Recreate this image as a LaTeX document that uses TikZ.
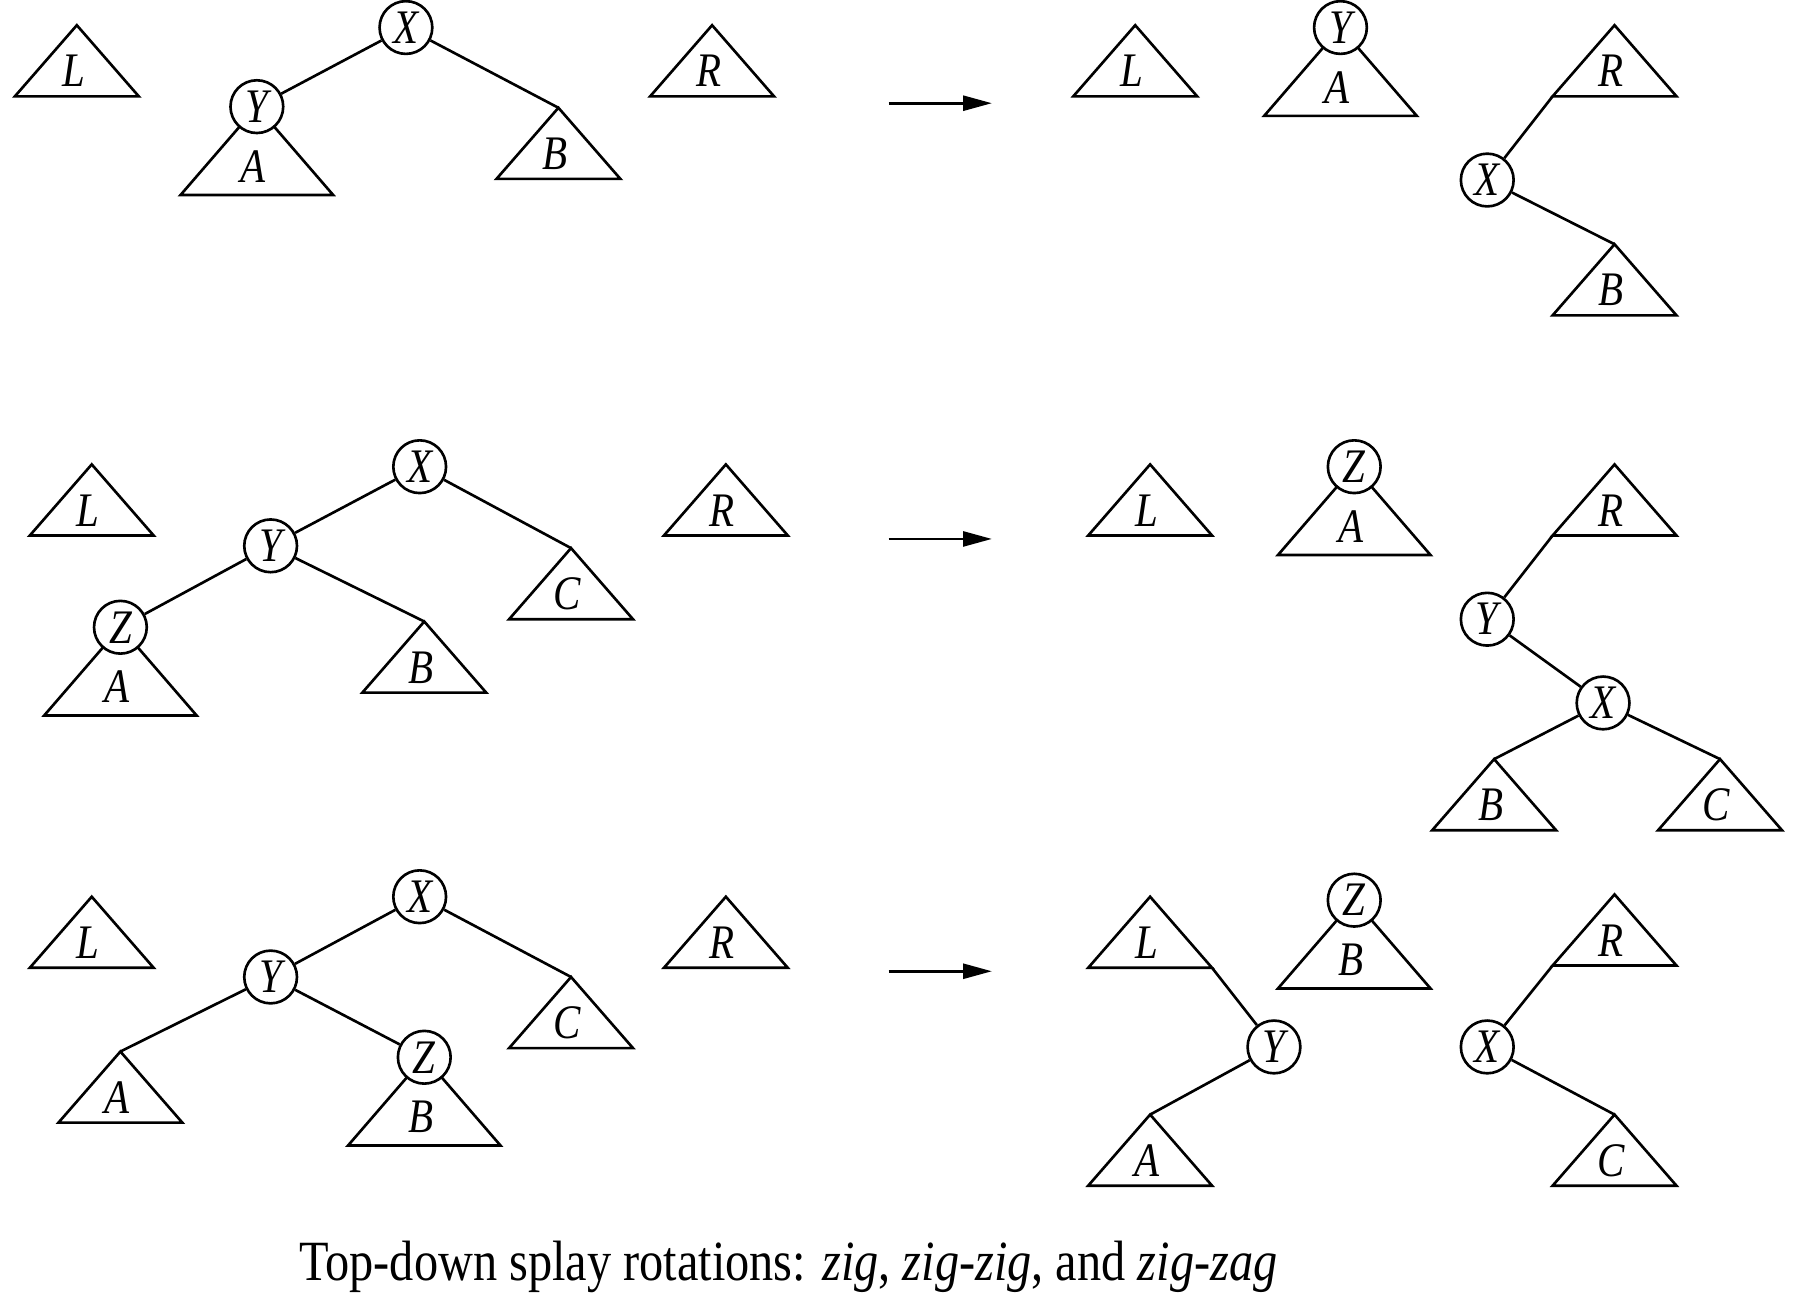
\documentclass[tikz,border=0pt]{standalone}
\usepackage{fontspec}
\setmainfont{Liberation Serif}[FakeStretch=0.85]
\usetikzlibrary{arrows.meta}
\tikzset{
  edge/.style={line width=1.15pt},
  tri/.style={line width=1.15pt, line join=miter},
  arr/.style={line width=1.15pt, -{Triangle[length=12.5pt,width=6.5pt]}},
  keynode/.style={circle, draw, line width=1.15pt, fill=white, minimum size=23pt, inner sep=0pt, font=\fontsize{21}{23}\selectfont\itshape},
  trilabel/.style={inner sep=0pt, font=\fontsize{21}{23}\selectfont\itshape},
  captext/.style={font=\fontsize{24.8}{28}\selectfont, inner sep=0pt, anchor=base}
}
% small subtree triangle: name, apex x, apex y, label
\newcommand\stri[4]{%
  \coordinate (#1-t) at (#2,#3);
  \draw[tri] (#1-t) -- ++(-54,62) coordinate (#1-l) -- ++(108,0) coordinate (#1-r) -- cycle;
  \node[trilabel] (#1-lab) at ([shift={(-3,40)}]#1-t) {#4};
}
% big subtree triangle hanging from a key node: key name, tri name, x, y, key letter, tri letter
\newcommand\btri[6]{%
  \coordinate (#2-t) at (#3,#4);
  \draw[tri] (#2-t) -- ++(-66.5,77) coordinate (#2-l) -- ++(133,0) coordinate (#2-r) -- cycle;
  \node[trilabel] (#2-lab) at ([shift={(-3,52)}]#2-t) {#6};
  \node[keynode] (#1) at (#3,#4) {#5};
}
\begin{document}
\begin{tikzpicture}[x=0.5pt,y=-0.5pt]
\useasboundingbox (0,0) rectangle (1568,1130.3);

% ---------- Row 1: zig ----------
\stri{aL}{67}{22}{L}
\node[keynode] (aX) at (354,24) {X};
\btri{aY}{aA}{224}{93}{Y}{A}
\stri{aB}{487}{94}{B}
\stri{aR}{621}{22}{R}
\draw[edge] (aY) -- (aX);
\draw[edge] (aX) -- (aB-t);

\coordinate (ar1s) at (775,90);
\coordinate (ar1e) at (865,90);
\draw[arr] (ar1s) -- (ar1e);

\stri{bL}{990}{22}{L}
\btri{bY}{bA}{1169}{24}{Y}{A}
\stri{bR}{1408}{22}{R}
\node[keynode] (bX) at (1297,157) {X};
\stri{bB}{1408}{213}{B}
\draw[edge] (bR-l) -- (bX);
\draw[edge] (bX) -- (bB-t);

% ---------- Row 2: zig-zig ----------
\stri{cL}{80}{405}{L}
\node[keynode] (cX) at (366,407) {X};
\node[keynode] (cY) at (236,476) {Y};
\btri{cZ}{cA}{105}{547}{Z}{A}
\stri{cB}{370}{542}{B}
\stri{cC}{498}{478}{C}
\stri{cR}{633}{405}{R}
\draw[edge] (cX) -- (cY);
\draw[edge] (cY) -- (cZ);
\draw[edge] (cY) -- (cB-t);
\draw[edge] (cX) -- (cC-t);

\coordinate (ar2s) at (775,470);
\coordinate (ar2e) at (865,470);
\draw[arr] (ar2s) -- (ar2e);

\stri{dL}{1003}{405}{L}
\btri{dZ}{dA}{1181}{407}{Z}{A}
\stri{dR}{1408}{405}{R}
\node[keynode] (dY) at (1297,540) {Y};
\node[keynode] (dX) at (1398,613) {X};
\stri{dB}{1303}{662}{B}
\stri{dC}{1500}{662}{C}
\draw[edge] (dR-l) -- (dY);
\draw[edge] (dY) -- (dX);
\draw[edge] (dX) -- (dB-t);
\draw[edge] (dX) -- (dC-t);

% ---------- Row 3: zig-zag ----------
\stri{eL}{80}{782}{L}
\node[keynode] (eX) at (366,782) {X};
\node[keynode] (eY) at (236,852) {Y};
\stri{eA}{105}{917}{A}
\btri{eZ}{eB}{370}{922}{Z}{B}
\stri{eC}{498}{852}{C}
\stri{eR}{633}{782}{R}
\draw[edge] (eX) -- (eY);
\draw[edge] (eY) -- (eA-t);
\draw[edge] (eY) -- (eZ);
\draw[edge] (eX) -- (eC-t);

\coordinate (ar3s) at (775,847);
\coordinate (ar3e) at (865,847);
\draw[arr] (ar3s) -- (ar3e);

\stri{fL}{1003}{782}{L}
\node[keynode] (fY) at (1111,913) {Y};
\stri{fA}{1003}{972}{A}
\btri{fZ}{fB}{1181}{785}{Z}{B}
\stri{fR}{1408}{780}{R}
\node[keynode] (fX) at (1297,913) {X};
\stri{fC}{1408}{972}{C}
\draw[edge] (fL-r) -- (fY);
\draw[edge] (fY) -- (fA-t);
\draw[edge] (fR-l) -- (fX);
\draw[edge] (fX) -- (fC-t);

% ---------- Caption ----------
\node[captext] (cap) at (687.5,1117) {Top-down splay rotations: \textit{zig}, \textit{zig-zig}, and \textit{zig-zag}};
\end{tikzpicture}
\end{document}
